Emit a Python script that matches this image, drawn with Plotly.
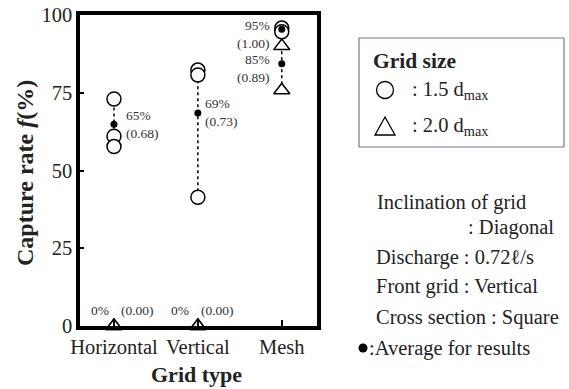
import plotly.graph_objects as go

# ---------------- data ----------------
categories = ["Horizontal", "Vertical", "Mesh"]

circle_cat = ["Horizontal", "Horizontal", "Horizontal",
              "Vertical", "Vertical", "Vertical",
              "Mesh", "Mesh"]
circle_val = [73.0, 61.0, 57.7, 82.3, 80.7, 41.4, 95.8, 94.6]

tri_cat = ["Horizontal", "Horizontal", "Vertical", "Vertical", "Mesh", "Mesh"]
tri_val = [0.0, 0.0, 0.0, 0.0, 90.0, 75.8]

avg_cat = ["Horizontal", "Vertical", "Mesh", "Mesh"]
avg_val = [64.9, 68.5, 95.4, 84.3]
avg_pct = ["65%", "69%", "95%", "85%"]
avg_ratio = ["(0.68)", "(0.73)", "(1.00)", "(0.89)"]

zero_cat = ["Horizontal", "Vertical"]
zero_pct = ["0%", "0%"]
zero_ratio = ["(0.00)", "(0.00)"]

span_lo = [57.7, 41.4, 75.8]
span_hi = [73.0, 82.3, 95.8]

y_ticks = [0, 25, 50, 75, 100]

# ---------------- layout helpers ----------------
W, H = 569, 389
L, R, T, B = 80, 317, 15, 326


def px(xp):
    return (xp - L) / (R - L)


def py(yp):
    return (B - yp) / (B - T)


SERIF = "Liberation Serif"
TXT = "#222222"

fig = go.Figure()

# dotted range lines
for c, lo, hi in zip(categories, span_lo, span_hi):
    fig.add_trace(go.Scatter(x=[c, c], y=[lo, hi], mode="lines",
                             line=dict(color="black", width=1.5, dash="dot"),
                             showlegend=False, hoverinfo="skip",
                             cliponaxis=False))

fig.add_trace(go.Scatter(x=circle_cat, y=circle_val, mode="markers",
                         marker=dict(symbol="circle", size=14, color="white",
                                     line=dict(color="black", width=1.5)),
                         showlegend=False, cliponaxis=False))
fig.add_trace(go.Scatter(x=tri_cat, y=tri_val, mode="markers",
                         marker=dict(symbol="triangle-up", size=14, color="white",
                                     line=dict(color="black", width=1.5)),
                         showlegend=False, cliponaxis=False))
fig.add_trace(go.Scatter(x=avg_cat, y=avg_val, mode="markers",
                         marker=dict(symbol="circle", size=7, color="black"),
                         showlegend=False, cliponaxis=False))

annotations = []
lab_font = dict(family=SERIF, size=13.5, color="#333333")
# average labels
offsets = {"Horizontal": ("left", 10, 0), "Vertical": ("left", 5, 0),
           "Mesh": ("right", -10, -5)}
for c, v, p, r in zip(avg_cat, avg_val, avg_pct, avg_ratio):
    anc, xs, ys = offsets[c]
    annotations.append(dict(x=c, y=v, xref="x", yref="y",
                            text=f"{p}<br>{r}", showarrow=False,
                            xanchor=anc, yanchor="middle", align=anc,
                            xshift=xs, yshift=ys, font=lab_font))
zero_shift = {"Horizontal": (-3, 5), "Vertical": (-7, 1)}
for c, p, r in zip(zero_cat, zero_pct, zero_ratio):
    s_p, s_r = zero_shift[c]
    annotations.append(dict(x=c, y=0, xref="x", yref="y", text=p,
                            showarrow=False, xanchor="right", yanchor="middle",
                            xshift=s_p, yshift=16, font=lab_font))
    annotations.append(dict(x=c, y=0, xref="x", yref="y", text=r,
                            showarrow=False, xanchor="left", yanchor="middle",
                            xshift=s_r, yshift=16, font=lab_font))

# axis titles
annotations.append(dict(x=px(196), y=py(374), xref="paper", yref="paper",
                        text="<b>Grid type</b>", showarrow=False,
                        xanchor="center", yanchor="middle",
                        font=dict(family=SERIF, size=22, color=TXT)))
annotations.append(dict(x=px(25), y=py(173), xref="paper", yref="paper",
                        text="<b>Capture rate <i>f</i>(%)</b>", showarrow=False,
                        textangle=-90, xanchor="center", yanchor="middle",
                        font=dict(family=SERIF, size=24, color=TXT)))

# legend-like box and notes
big = dict(family=SERIF, size=20.5, color=TXT)
annotations.append(dict(x=px(371), y=py(61), xref="paper", yref="paper",
                        text="<b>Grid size</b>", showarrow=False,
                        xanchor="left", yanchor="middle",
                        font=dict(family=SERIF, size=21.5, color=TXT)))
annotations.append(dict(x=px(410), y=py(90), xref="paper", yref="paper",
                        text=": 1.5 d<sub>max</sub>", showarrow=False,
                        xanchor="left", yanchor="middle", font=big))
annotations.append(dict(x=px(410), y=py(127), xref="paper", yref="paper",
                        text=": 2.0 d<sub>max</sub>", showarrow=False,
                        xanchor="left", yanchor="middle", font=big))
notes = [("Inclination of grid", 375, 202),
         (": Diagonal", 466, 227),
         ("Discharge : 0.72\u2113/s", 374, 257),
         ("Front grid : Vertical", 374, 286),
         ("Cross section : Square", 374, 317),
         (":Average for results", 367, 348)]
for t, xx, yy in notes:
    annotations.append(dict(x=px(xx), y=py(yy), xref="paper", yref="paper",
                            text=t, showarrow=False, xanchor="left",
                            yanchor="middle", font=big))

shapes = [
    dict(type="rect", xref="paper", yref="paper", x0=px(359), x1=px(564),
         y0=py(147), y1=py(38), line=dict(color="#6b7b95", width=1.2)),
    dict(type="circle", xref="paper", yref="paper", xsizemode="pixel",
         ysizemode="pixel", xanchor=px(385), yanchor=py(90),
         x0=-8.5, x1=8.5, y0=-8.5, y1=8.5,
         line=dict(color="black", width=1.3)),
    dict(type="path", xref="paper", yref="paper", xsizemode="pixel",
         ysizemode="pixel", xanchor=px(385), yanchor=py(127),
         path="M -10 -8 L 10 -8 L 0 10 Z",
         line=dict(color="black", width=1.3)),
    dict(type="circle", xref="paper", yref="paper", xsizemode="pixel",
         ysizemode="pixel", xanchor=px(363), yanchor=py(348),
         x0=-4.5, x1=4.5, y0=-4.5, y1=4.5,
         fillcolor="black", line=dict(color="black", width=0)),
]

fig.update_layout(
    width=W, height=H,
    margin=dict(l=L, r=W - R, t=T, b=H - B, pad=0, autoexpand=False),
    paper_bgcolor="white", plot_bgcolor="white",
    showlegend=False,
    annotations=annotations, shapes=shapes,
    font=dict(family=SERIF, color=TXT),
    xaxis=dict(type="category", categoryorder="array",
               categoryarray=categories, range=[-0.405, 2.42],
               automargin=False,
               showgrid=False, zeroline=False,
               showline=True, linecolor="black", linewidth=3.5, mirror=True,
               ticks="inside", ticklen=6, tickwidth=2, tickcolor="black",
               tickfont=dict(family=SERIF, size=20.5, color=TXT)),
    yaxis=dict(range=[0, 100], tickvals=y_ticks, automargin=False,
               showgrid=False, zeroline=False,
               showline=True, linecolor="black", linewidth=3.5, mirror=True,
               ticks="inside", ticklen=4, tickwidth=2, tickcolor="black",
               tickfont=dict(family=SERIF, size=20.5, color=TXT)),
)

fig.write_html("out.html")
